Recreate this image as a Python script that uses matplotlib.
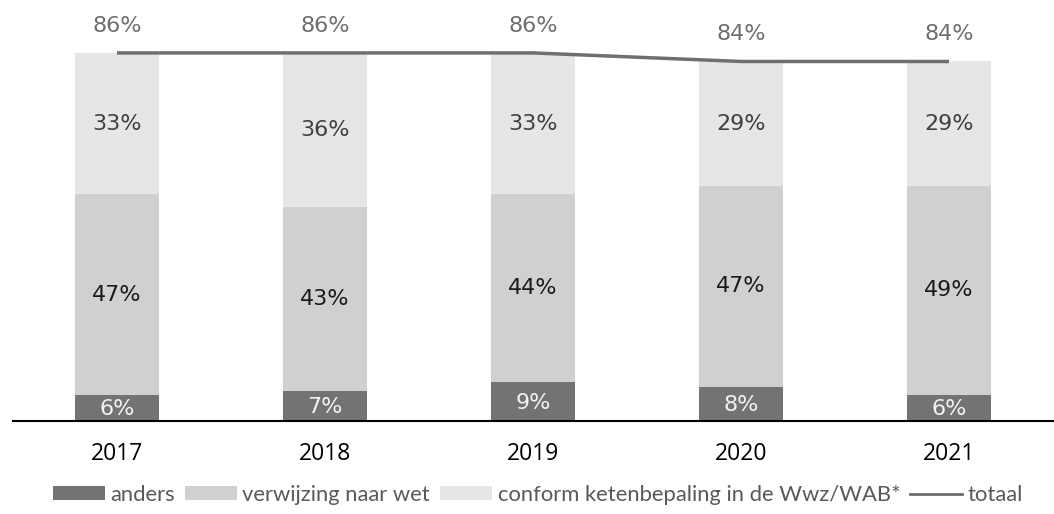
import matplotlib
matplotlib.use("Agg")
import matplotlib.pyplot as plt
from matplotlib.patches import Patch
from matplotlib.lines import Line2D
import numpy as np

years = ["2017", "2018", "2019", "2020", "2021"]
anders = [6, 7, 9, 8, 6]
verwijzing = [47, 43, 44, 47, 49]
conform = [33, 36, 33, 29, 29]
totaal = [86, 86, 86, 84, 84]

c_anders = "#737373"
c_verw = "#d0d0d0"
c_conf = "#e6e6e6"
c_line = "#6f6f6f"

W, H = 1054, 514
fig = plt.figure(figsize=(W / 100, H / 100), dpi=100)
ppu = 4.28
base_px = 421
top_val = 90
ax = fig.add_axes([13 / W, (H - base_px) / H, (1053 - 13) / W, top_val * ppu / H])

x = np.arange(len(years))
bw = 0.4
a = np.array(anders)
v = np.array(verwijzing)
c = np.array(conform)
ax.bar(x, a, bw, color=c_anders, linewidth=0)
ax.bar(x, v, bw, bottom=a, color=c_verw, linewidth=0)
ax.bar(x, c, bw, bottom=a + v, color=c_conf, linewidth=0)
ax.plot(x, totaal, color=c_line, linewidth=2.5, solid_capstyle="butt")

fs = 16
for i in range(len(years)):
    ax.text(x[i], a[i] / 2 - 0.3, f"{anders[i]}%", ha="center", va="center",
            fontsize=fs, color="#f2f2f2", family="DejaVu Sans")
    ax.text(x[i], a[i] + v[i] / 2, f"{verwijzing[i]}%", ha="center", va="center",
            fontsize=fs, color="#1a1a1a", family="DejaVu Sans")
    ax.text(x[i], a[i] + v[i] + c[i] / 2, f"{conform[i]}%", ha="center", va="center",
            fontsize=fs, color="#404040", family="DejaVu Sans")
    ax.text(x[i], totaal[i] + 6.4, f"{totaal[i]}%", ha="center", va="center",
            fontsize=fs, color="#6f6f6f", family="DejaVu Sans", clip_on=False)

ax.set_xlim(-0.5, 4.5)
ax.set_ylim(0, top_val)
for s in ["top", "right", "left"]:
    ax.spines[s].set_visible(False)
ax.spines["bottom"].set_color("#000000")
ax.spines["bottom"].set_linewidth(1.5)
ax.set_yticks([])
ax.set_xticks(x)
ax.set_xticklabels(years, fontsize=16.5, family="Open Sans", color="#000000")
ax.tick_params(axis="x", length=0, pad=15)

handles = [
    Patch(facecolor=c_anders, linewidth=0),
    Patch(facecolor=c_verw, linewidth=0),
    Patch(facecolor=c_conf, linewidth=0),
    Line2D([0], [0], color=c_line, linewidth=2),
]
labels = ["anders", "verwijzing naar wet", "conform ketenbepaling in de Wwz/WAB*", "totaal"]
leg = fig.legend(handles, labels, loc="center", bbox_to_anchor=(538 / W, 1 - 495 / H),
                 ncol=4, frameon=False, prop={"family": "Lato", "size": 15.8},
                 handlelength=2.35, handleheight=0.6, handletextpad=0.27,
                 columnspacing=0.45, labelcolor="#595959", borderpad=0)

fig.savefig("out.png", dpi=100)
